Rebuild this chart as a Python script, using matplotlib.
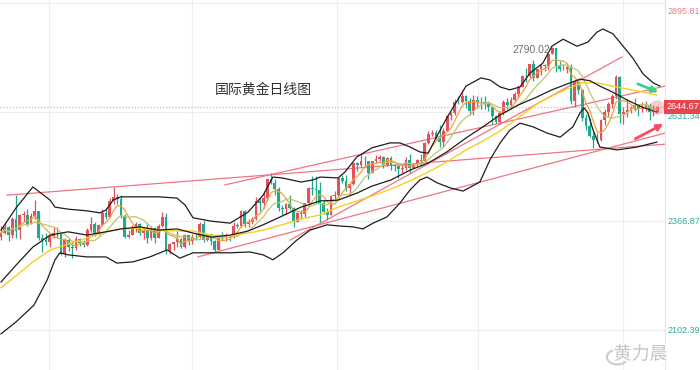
import numpy as np
import pandas as pd
import matplotlib
matplotlib.use("Agg")
import matplotlib.pyplot as plt
import matplotlib.patheffects as pe
from matplotlib.patches import Ellipse

# daily candles (oldest first)
opens = [2329, 2339, 2353, 2333, 2373, 2345, 2383, 2383, 2361, 2379,
         2391, 2327, 2322, 2316, 2332, 2336, 2335, 2286, 2320, 2303,
         2301, 2324, 2314, 2309, 2346, 2360, 2336, 2358, 2386, 2377,
         2416, 2425, 2421, 2379, 2329, 2334, 2351, 2361, 2338, 2343,
         2327, 2350, 2327, 2355, 2376, 2294, 2311, 2316, 2324, 2305,
         2333, 2318, 2329, 2328, 2360, 2321, 2334, 2319, 2298, 2327,
         2326, 2332, 2330, 2356, 2356, 2392, 2359, 2364, 2371, 2415,
         2411, 2422, 2469, 2459, 2445, 2400, 2396, 2409, 2398, 2364,
         2387, 2384, 2411, 2447, 2446, 2442, 2410, 2390, 2382, 2427,
         2431, 2472, 2465, 2447, 2457, 2507, 2504, 2514, 2512, 2484,
         2512, 2517, 2524, 2504, 2521, 2503, 2500, 2493, 2495, 2516,
         2497, 2505, 2516, 2512, 2558, 2578, 2582, 2570, 2559, 2586,
         2622, 2629, 2657, 2657, 2672, 2658, 2634, 2662, 2657, 2656,
         2653, 2644, 2622, 2608, 2630, 2657, 2649, 2662, 2675, 2694,
         2720, 2719, 2748, 2714, 2736, 2747, 2743, 2774, 2788, 2743,
         2736, 2737, 2742, 2659, 2706, 2685, 2618, 2599, 2573, 2565,
         2563, 2612, 2631, 2651, 2670, 2716, 2627, 2633, 2638, 2641,
         2650, 2639, 2643, 2650, 2632, 2633]
highs = [2354, 2365, 2354, 2378, 2431, 2385, 2392, 2396, 2386, 2418,
         2392, 2336, 2338, 2338, 2352, 2353, 2336, 2326, 2326, 2319,
         2331, 2327, 2321, 2351, 2378, 2364, 2359, 2396, 2400, 2422,
         2450, 2433, 2431, 2385, 2346, 2358, 2364, 2362, 2350, 2362,
         2354, 2353, 2360, 2388, 2387, 2313, 2317, 2342, 2327, 2335,
         2334, 2335, 2337, 2365, 2368, 2336, 2338, 2320, 2328, 2340,
         2339, 2334, 2365, 2363, 2393, 2393, 2372, 2377, 2425, 2424,
         2440, 2469, 2483, 2470, 2449, 2406, 2412, 2431, 2402, 2389,
         2394, 2412, 2451, 2477, 2477, 2461, 2418, 2400, 2431, 2439,
         2475, 2480, 2479, 2463, 2509, 2510, 2531, 2526, 2513, 2512,
         2528, 2528, 2525, 2524, 2525, 2506, 2504, 2503, 2523, 2529,
         2507, 2518, 2529, 2560, 2586, 2589, 2589, 2600, 2594, 2625,
         2633, 2664, 2670, 2685, 2674, 2665, 2673, 2670, 2668, 2670,
         2660, 2645, 2625, 2634, 2661, 2666, 2668, 2680, 2697, 2722,
         2740, 2748, 2758, 2737, 2747, 2749, 2775, 2790.02, 2786, 2757,
         2748, 2750, 2749, 2710, 2709, 2688, 2627, 2618, 2584, 2581,
         2616, 2639, 2656, 2675, 2721, 2720, 2644, 2664, 2647, 2665,
         2651, 2657, 2658, 2655, 2649, 2647]
lows = [2321, 2336, 2319, 2326, 2326, 2324, 2366, 2355, 2360, 2372,
        2322, 2292, 2309, 2305, 2326, 2325, 2285, 2281, 2295, 2277,
        2298, 2307, 2303, 2306, 2340, 2332, 2334, 2354, 2373, 2376,
        2409, 2409, 2374, 2326, 2325, 2333, 2340, 2334, 2323, 2314,
        2320, 2314, 2326, 2352, 2287, 2286, 2298, 2303, 2301, 2302,
        2309, 2312, 2322, 2325, 2316, 2318, 2309, 2293, 2298, 2319,
        2319, 2319, 2327, 2350, 2353, 2353, 2352, 2360, 2369, 2391,
        2399, 2417, 2456, 2431, 2392, 2383, 2385, 2393, 2353, 2364,
        2372, 2377, 2404, 2430, 2410, 2364, 2384, 2370, 2382, 2417,
        2429, 2460, 2441, 2431, 2455, 2489, 2498, 2500, 2470, 2483,
        2508, 2512, 2496, 2501, 2491, 2488, 2472, 2484, 2491, 2485,
        2495, 2500, 2500, 2511, 2555, 2574, 2566, 2546, 2546, 2586,
        2613, 2624, 2651, 2655, 2643, 2624, 2624, 2642, 2640, 2639,
        2635, 2604, 2605, 2603, 2625, 2640, 2639, 2656, 2667, 2692,
        2704, 2714, 2708, 2714, 2722, 2731, 2735, 2772, 2730, 2732,
        2733, 2727, 2652, 2644, 2677, 2610, 2589, 2571, 2545, 2557,
        2562, 2600, 2620, 2643, 2664, 2605, 2602, 2620, 2630, 2635,
        2622, 2631, 2634, 2613, 2622, 2630]
closes = [2339, 2352, 2333, 2372, 2344, 2383, 2384, 2361, 2379, 2392,
          2327, 2322, 2316, 2332, 2337, 2335, 2286, 2320, 2303, 2301,
          2324, 2314, 2309, 2346, 2360, 2336, 2358, 2386, 2377, 2415,
          2425, 2421, 2379, 2329, 2334, 2351, 2361, 2338, 2343, 2327,
          2350, 2327, 2355, 2376, 2294, 2311, 2316, 2324, 2305, 2333,
          2318, 2329, 2328, 2360, 2321, 2334, 2319, 2298, 2327, 2326,
          2332, 2330, 2356, 2355, 2392, 2359, 2364, 2371, 2415, 2411,
          2422, 2469, 2459, 2445, 2400, 2396, 2409, 2398, 2364, 2387,
          2384, 2411, 2447, 2446, 2442, 2410, 2390, 2382, 2427, 2431,
          2472, 2465, 2447, 2457, 2507, 2504, 2514, 2512, 2484, 2512,
          2517, 2524, 2504, 2521, 2503, 2500, 2493, 2495, 2516, 2497,
          2505, 2516, 2512, 2558, 2578, 2582, 2570, 2559, 2586, 2622,
          2629, 2657, 2656, 2672, 2658, 2634, 2662, 2657, 2656, 2653,
          2644, 2622, 2608, 2630, 2657, 2649, 2662, 2675, 2694, 2720,
          2719, 2748, 2714, 2736, 2747, 2743, 2774, 2788, 2743, 2736,
          2737, 2742, 2659, 2706, 2685, 2618, 2599, 2573, 2565, 2563,
          2612, 2631, 2651, 2670, 2716, 2627, 2633, 2638, 2641, 2650,
          2639, 2643, 2650, 2632, 2633, 2645]

# bollinger bands and the yellow MA (candle index, price)
boll_up_idx = [0, 4, 8.5, 13.1, 14.4, 17.9, 22.9, 26.4, 28, 29.9, 32, 41.9, 46.9, 49.1,
               51.2, 56, 61.1, 65.9, 69.9, 72.5, 74.9, 80, 83.2, 85.1, 89.9, 91.7, 94.9,
               98.9, 103.7, 106.4, 109.1, 111.7, 113.9, 115.7, 118.9, 124, 128, 130.4,
               133.1, 135.7, 138.4, 141.1, 144.5, 146.9, 149.9, 153.6, 156.5, 158.9,
               160.5, 163.2, 165.9, 168.5, 171.2, 173.9, 175.7]
boll_up = [2345, 2399, 2450, 2418, 2401, 2396, 2392, 2387, 2394, 2418, 2426, 2426, 2423,
           2406, 2375, 2367, 2362, 2389, 2430, 2474, 2472, 2462, 2467, 2474, 2472, 2486,
           2523, 2545, 2557, 2557, 2547, 2535, 2532, 2564, 2618, 2695, 2715, 2710, 2693,
           2686, 2693, 2727, 2751, 2792, 2809, 2792, 2802, 2826, 2834, 2822, 2792, 2763,
           2725, 2703, 2695]
boll_mid_idx = [0, 4, 8.5, 13.1, 17.9, 22.9, 28, 32, 37.1, 41.9, 46.9, 51.2, 56, 61.1,
                65.9, 69.9, 74.9, 80, 85.1, 89.9, 94.9, 98.9, 104, 109.1, 113.9, 118.9,
                124, 128, 133.1, 137.9, 143, 146.9, 150.9, 154.4, 157.1, 159.7, 163, 167,
                171, 174.9]
boll_mid = [2219, 2260, 2304, 2333, 2341, 2333, 2341, 2348, 2353, 2345, 2348, 2338, 2328,
            2333, 2343, 2358, 2379, 2401, 2416, 2418, 2435, 2452, 2467, 2491, 2508, 2535,
            2569, 2593, 2625, 2649, 2669, 2686, 2700, 2712, 2708, 2695, 2681, 2661, 2644,
            2632]
boll_low_idx = [0, 4, 8.8, 12.3, 14.4, 15.7, 17.9, 22.9, 28, 30.9, 35.2, 39.7, 44.3, 47.7,
                51.2, 56, 61.1, 66.4, 69.9, 72.5, 75.2, 78.9, 82.4, 86.9, 90.4, 93.9, 96.5,
                99.2, 102.9, 106.4, 109.1, 111.7, 113.6, 116.3, 119.7, 123.2, 127.7, 130.4,
                133.1, 135.7, 138.4, 141.9, 145.6, 149.1, 152.5, 154.4, 155.5, 156.5, 157.9,
                159.7, 164.3, 169.6, 174.9]
boll_low = [2093, 2122, 2163, 2224, 2273, 2290, 2285, 2280, 2280, 2265, 2268, 2280, 2297,
            2277, 2290, 2290, 2290, 2292, 2285, 2273, 2290, 2321, 2345, 2358, 2355, 2353,
            2348, 2362, 2377, 2411, 2443, 2467, 2474, 2460, 2448, 2440, 2462, 2516, 2557,
            2588, 2605, 2596, 2581, 2571, 2596, 2630, 2642, 2630, 2588, 2547, 2540, 2547,
            2559]
ma30_idx = [0, 4, 8.5, 13.1, 17.9, 22.9, 28, 32, 37.1, 41.9, 46.9, 51.2, 56, 61.1, 65.9,
            69.9, 74.9, 80, 85.1, 89.9, 94.9, 98.9, 104, 109.1, 113.9, 118.9, 124, 128,
            133.1, 137.9, 143, 146.9, 150.9, 154.9, 158.9, 163, 167, 171, 174.9]
ma30 = [2205, 2234, 2268, 2297, 2311, 2326, 2341, 2348, 2350, 2345, 2343, 2343, 2333, 2331,
        2338, 2345, 2358, 2372, 2382, 2401, 2416, 2428, 2445, 2465, 2486, 2511, 2540, 2559,
        2586, 2618, 2652, 2671, 2688, 2703, 2703, 2695, 2688, 2681, 2673]

# hand drawn trend lines: start idx, start price, end idx, end price
trend_lines = [(1.6, 2430, 177.1, 2554),
               (59.7, 2455, 177.1, 2695),
               (52.5, 2280, 177.1, 2581),
               (77.1, 2321, 165.6, 2766)]

y_ticks = [2102.39, 2366.87, 2631.34, 2895.81]
last_price = 2644.67
peak_price = 2790.02
peak_idx = 147

RED = "#e5505d"
GREEN = "#21a98e"
NUMFONT = ["Liberation Sans", "DejaVu Sans"]

fig = plt.figure(figsize=(7, 3.7), dpi=100)
ax = fig.add_axes([0, 0, 665 / 700, 1])
ax.set_xlim(-0.27, 177.07)
ax.set_ylim(2005.2, 2904.3)
ax.set_xticks([])
ax.set_yticks([])
for s in ["top", "left", "bottom"]:
    ax.spines[s].set_visible(False)
ax.spines["right"].set_color("#e4e4e4")
ax.spines["right"].set_linewidth(0.8)

# grid
for v in y_ticks:
    ax.axhline(v, color="#eeeeee", lw=0.8, zorder=0)
for gx in [12.8, 51.0, 89.6, 127.2, 165.9]:
    ax.axvline(gx, color="#eeeeee", lw=0.8, zorder=0)

# current price dotted line
ax.axhline(last_price, color="#f2a5ad", lw=0.9, ls=(0, (1, 1.5)), zorder=1)

# candles
o = np.array(opens, float)
h = np.array(highs, float)
l = np.array(lows, float)
c = np.array(closes, float)
x = np.arange(len(c))
cols = np.where(c >= o, RED, GREEN)
ax.vlines(x, l, h, colors=cols, lw=0.9, zorder=3)
ax.bar(x, np.maximum(np.abs(c - o), 1.5), bottom=np.minimum(o, c), width=0.75,
       color=cols, lw=0, zorder=3)

# moving averages
ma5 = pd.Series(c).rolling(5, min_periods=1).mean()
ma10 = pd.Series(c).rolling(10, min_periods=1).mean()
ax.plot(x, ma5, color="#f5a03a", lw=0.9, zorder=4)
ax.plot(x, ma10, color="#b9c870", lw=0.9, zorder=4)
ax.plot(ma30_idx, ma30, color="#f5cf22", lw=1.0, zorder=4)

# bollinger
for bi, bv in [(boll_up_idx, boll_up), (boll_mid_idx, boll_mid), (boll_low_idx, boll_low)]:
    ax.plot(bi, bv, color="#1e1e1e", lw=0.9, zorder=5)

# trend lines
for x0, y0, x1, y1 in trend_lines:
    ax.plot([x0, x1], [y0, y1], color="#f27483", lw=0.9, zorder=2)

# arrows
ax.annotate("", xy=(176.0, 2678), xytext=(169.1, 2703),
            arrowprops=dict(arrowstyle="-|>", color="#3fcf8a", lw=2.0, mutation_scale=9),
            annotation_clip=False, zorder=6)
ax.annotate("", xy=(177.3, 2606), xytext=(168.5, 2564),
            arrowprops=dict(arrowstyle="-|>", color="#f24d60", lw=2.0, mutation_scale=9),
            annotation_clip=False, zorder=6)

# last price marker
ax.scatter([len(c) - 1], [last_price], s=110, color="#f06a78", alpha=0.35, lw=0, zorder=6)

# labels
ax.text(peak_idx - 0.6, peak_price - 8, f"{peak_price:.2f}", ha="right",
        va="center", fontsize=7.5, color="#6e6e6e", zorder=7, family=NUMFONT)
ax.text(70, 2686, "国际黄金日线图", fontsize=10, color="#333333", ha="center", va="center",
        family=["Noto Sans CJK SC", "DejaVu Sans"])

ytr = ax.get_yaxis_transform()
tick_cols = ["#2aae97", "#2aae97", "#2aae97", "#ee7d88"]
tick_offsets = [0, 0, -3, -6]
for v, tc, dy in zip(y_ticks, tick_cols, tick_offsets):
    ax.annotate(f"{v:.2f}", xy=(1, v), xycoords=ytr, xytext=(2, dy),
                textcoords="offset points", va="center", fontsize=6.5, color=tc,
                family=NUMFONT, annotation_clip=False)
ax.text(1.003, last_price, f"{last_price:.2f}", transform=ytr, va="center", fontsize=6.5,
        color="white", clip_on=False, zorder=8, family=NUMFONT,
        bbox=dict(boxstyle="square,pad=0.28", fc="#e5464f", ec="none"))

# watermark
fig.text(0.915, 0.042, "黄力晨", fontsize=13, color="#c4c4c4", ha="center", va="center",
         family=["Noto Sans CJK SC", "DejaVu Sans"],
         path_effects=[pe.withStroke(linewidth=2.5, foreground="white")])
fig.patches.append(Ellipse((0.882, 0.035), 0.03, 0.04, transform=fig.transFigure,
                           fc="none", ec="#cccccc", lw=1.5))

fig.savefig("out.png", dpi=100)
